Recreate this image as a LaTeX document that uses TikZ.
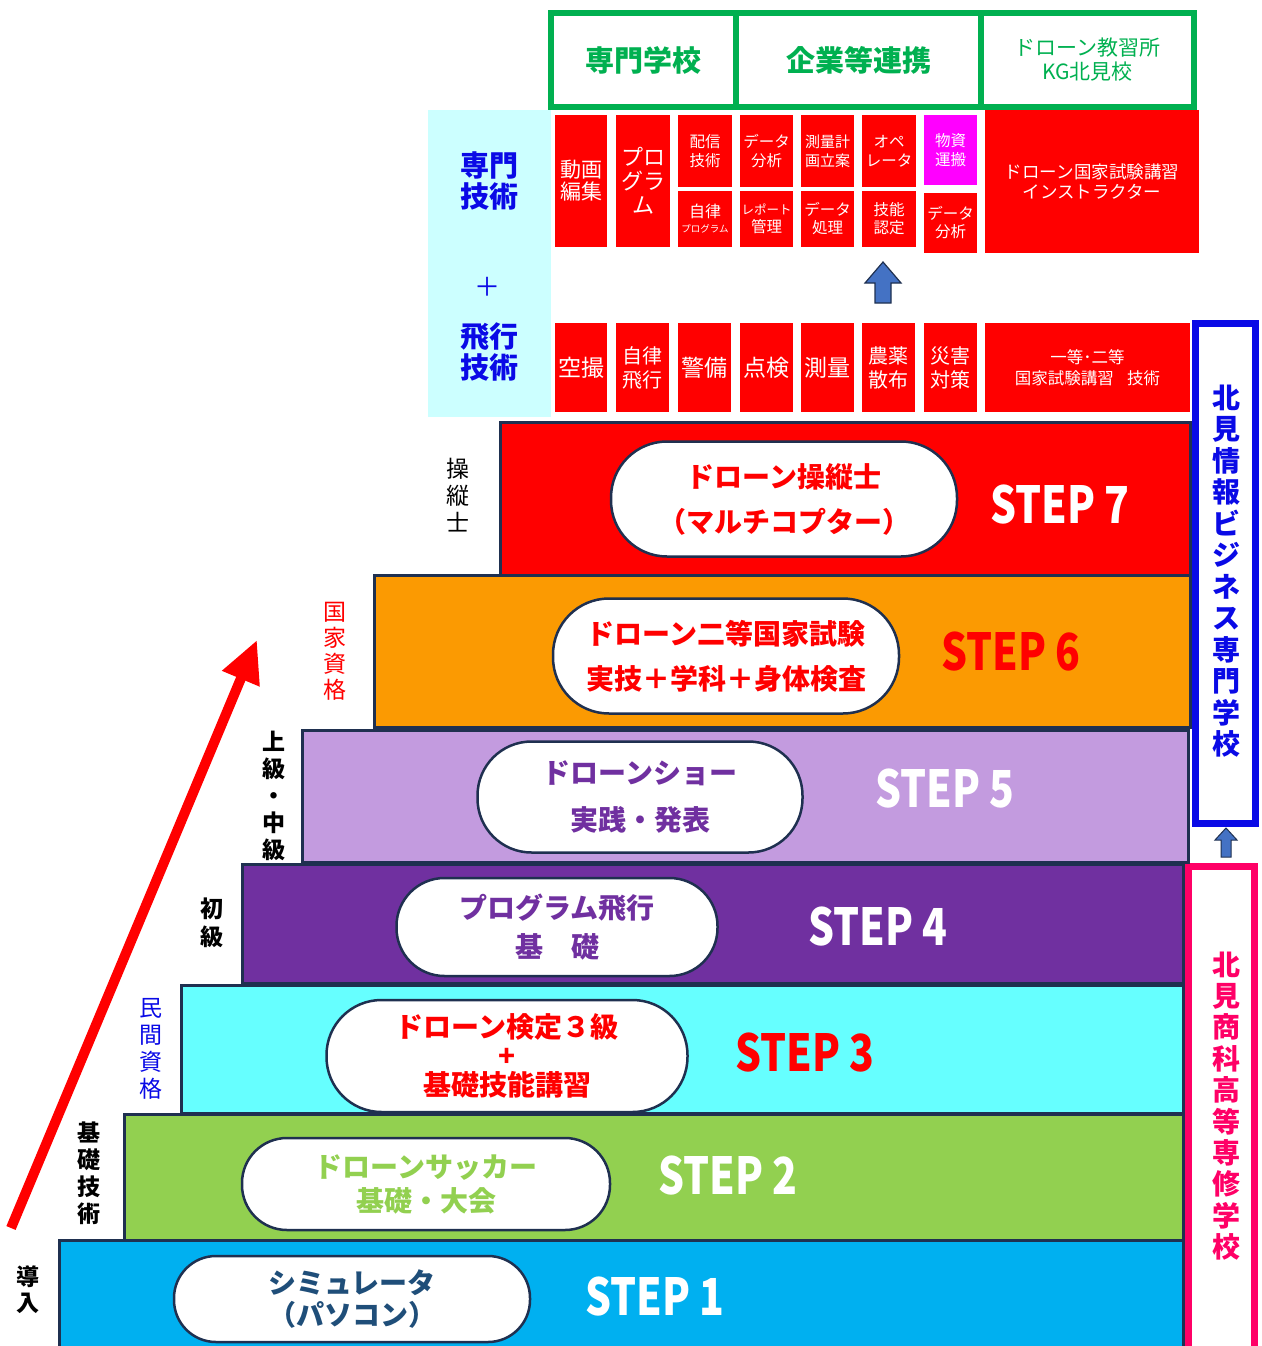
\documentclass[tikz,border=0pt]{standalone}
\usepackage{fontspec}
\setmainfont{Noto Sans CJK JP}
\newfontfamily\stepfont[FakeStretch=0.8]{Noto Sans CJK JP}
\usetikzlibrary{arrows.meta}
\definecolor{navy}{HTML}{1F3050}
\definecolor{cRed}{HTML}{FF0000}
\definecolor{cOrange}{HTML}{FB9A02}
\definecolor{cLav}{HTML}{C39BDF}
\definecolor{cPurple}{HTML}{7030A0}
\definecolor{cCyan}{HTML}{66FFFF}
\definecolor{cGreen}{HTML}{92D050}
\definecolor{cBlue}{HTML}{00B0F0}
\definecolor{cLight}{HTML}{CCFFFF}
\definecolor{cMag}{HTML}{FF00FF}
\definecolor{gGreen}{HTML}{00B050}
\definecolor{cPink}{HTML}{FF0066}
\definecolor{tNavy}{HTML}{1F4E79}
\definecolor{vBlue}{HTML}{0A0AE6}
\definecolor{arBlue}{HTML}{4472C4}
\tikzset{
  base/.style={inner sep=0pt, outer sep=0pt, anchor=north west},
  stepbox/.style={base, draw=navy, line width=3pt},
  pill/.style={draw=navy, line width=2.5pt, fill=white, inner sep=0pt, align=center},
  cell/.style={base, fill=cRed, text=white, align=center},
  hdr/.style={base, draw=gGreen, line width=6pt, text=gGreen, align=center},
  steplbl/.style={inner sep=0pt, font=\stepfont\bfseries\fontsize{51}{56}\selectfont},
  vlbl/.style={align=center, inner sep=0pt},
  pilltext/.style={font=\bfseries\fontsize{28}{#1}\selectfont},
}
\begin{document}
\begin{tikzpicture}[x=1pt,y=-1pt]
\useasboundingbox (0,0) rectangle (1261,1346);

% light cyan panel
\node[base, fill=cLight, minimum width=123, minimum height=307] (panel) at (428,110) {};
\node[vlbl, text=vBlue, font=\bfseries\fontsize{29}{31}\selectfont] (pt1) at (489,181) {専門\\技術};
\node[vlbl, text=vBlue, font=\fontsize{26}{28}\selectfont] (pt2) at (487,287) {＋};
\node[vlbl, text=vBlue, font=\bfseries\fontsize{29}{31}\selectfont] (pt3) at (489,352) {飛行\\技術};

% upper red cells
\node[cell, minimum width=214, minimum height=143, font=\fontsize{17.5}{20}\selectfont] (c13) at (985,110) {ドローン国家試験講習\\インストラクター};
\node[cell, minimum width=52, minimum height=132, font=\fontsize{21}{22}\selectfont] (c1) at (555,115) {動画\\編集};
\node[cell, minimum width=54, minimum height=132, font=\fontsize{22}{24}\selectfont] (c2) at (616,115) {プロ\\グラ\\ム};
\node[cell, minimum width=54, minimum height=72, font=\fontsize{15.5}{19}\selectfont] (c3) at (678,115) {配信\\技術};
\node[cell, minimum width=54, minimum height=56, font=\fontsize{16}{15}\selectfont] (c4) at (678,191) {自律\\{\fontsize{9.5}{11}\selectfont プログラム}};
\node[cell, minimum width=53, minimum height=72, font=\fontsize{15.5}{19}\selectfont] (c5) at (740,115) {データ\\分析};
\node[cell, minimum width=53, minimum height=56, font=\fontsize{15.5}{18}\selectfont] (c6) at (740,191) {{\fontsize{12.5}{14}\selectfont レポート}\\管理};
\node[cell, minimum width=53, minimum height=72, font=\fontsize{15}{19}\selectfont] (c7) at (801,115) {測量計\\画立案};
\node[cell, minimum width=53, minimum height=56, font=\fontsize{15.5}{18}\selectfont] (c8) at (801,191) {データ\\処理};
\node[cell, minimum width=54, minimum height=72, font=\fontsize{15.5}{19}\selectfont] (c9) at (862,115) {オペ\\レータ};
\node[cell, minimum width=54, minimum height=56, font=\fontsize{15.5}{18}\selectfont] (c10) at (862,191) {技能\\認定};
\node[cell, fill=cMag, minimum width=53, minimum height=70, font=\fontsize{15.5}{19}\selectfont] (c11) at (924,115) {物資\\運搬};
\node[cell, minimum width=53, minimum height=60, font=\fontsize{15.5}{18}\selectfont] (c12) at (924,193) {データ\\分析};

% green header
\node[hdr, minimum width=185, minimum height=94, font=\bfseries\fontsize{29}{31}\selectfont] (h1) at (551,13) {専門学校};
\node[hdr, minimum width=245, minimum height=94, font=\bfseries\fontsize{29}{31}\selectfont] (h2) at (736,13) {企業等連携};
\node[hdr, minimum width=213, minimum height=94, font=\fontsize{21}{24}\selectfont] (h3) at (981,13) {ドローン教習所\\KG北見校};

% blue block arrow (upper)
\fill[arBlue, draw=navy, line width=1.2pt] (875,303) -- (875,283) -- (865,283) -- (883,262) -- (901,283) -- (891,283) -- (891,303) -- cycle;

% lower red cells
\node[cell, minimum width=52, minimum height=89, font=\fontsize{23}{24}\selectfont] (d1) at (555,323) {空撮};
\node[cell, minimum width=53, minimum height=89, font=\fontsize{20}{24}\selectfont] (d2) at (616,323) {自律\\飛行};
\node[cell, minimum width=53, minimum height=89, font=\fontsize{23}{24}\selectfont] (d3) at (678,323) {警備};
\node[cell, minimum width=53, minimum height=89, font=\fontsize{23}{24}\selectfont] (d4) at (740,323) {点検};
\node[cell, minimum width=53, minimum height=89, font=\fontsize{23}{24}\selectfont] (d5) at (801,323) {測量};
\node[cell, minimum width=53, minimum height=89, font=\fontsize{20}{24}\selectfont] (d6) at (862,323) {農薬\\散布};
\node[cell, minimum width=53, minimum height=89, font=\fontsize{20}{24}\selectfont] (d7) at (924,323) {災害\\対策};
\node[cell, minimum width=205, minimum height=89, font=\fontsize{16.5}{21}\selectfont] (d8) at (985,323) {一等･二等\\国家試験講習\hspace{0.8em}技術};

% right-side school boxes
\node[base, draw=vBlue, line width=7pt, minimum width=60, minimum height=500] (kb) at (1195,323) {};
\node[vlbl, text=vBlue, font=\bfseries\fontsize{28}{31.5}\selectfont] (kbt) at (1226,571) {北\\見\\情\\報\\ビ\\ジ\\ネ\\ス\\専\\門\\学\\校};
\node[base, draw=cPink, line width=7pt, minimum width=66, minimum height=500] (pb) at (1188,866) {};
\node[vlbl, text=cPink, font=\bfseries\fontsize{28}{31.4}\selectfont] (pbt) at (1226,1106) {北\\見\\商\\科\\高\\等\\専\\修\\学\\校};
\fill[arBlue, draw=navy, line width=1pt] (1221,857) -- (1221,840) -- (1215,840) -- (1226,828) -- (1237,840) -- (1231,840) -- (1231,857) -- cycle;

% steps
\node[stepbox, fill=cBlue, minimum width=1124, minimum height=116] (s1) at (59,1240) {};
\node[stepbox, fill=cGreen, minimum width=1059, minimum height=126] (s2) at (124,1114) {};
\node[stepbox, fill=cCyan, minimum width=1002, minimum height=128] (s3) at (181,985) {};
\node[stepbox, fill=cPurple, minimum width=941, minimum height=119] (s4) at (242,864) {};
\node[stepbox, fill=cLav, minimum width=886, minimum height=132] (s5) at (302,730) {};
\node[stepbox, fill=cOrange, minimum width=816, minimum height=152] (s6) at (374,575) {};
\node[stepbox, fill=cRed, minimum width=690, minimum height=153] (s7) at (500,422) {};

% pills
\node[pill, minimum width=346, minimum height=115, rounded corners=56, text=cRed, pilltext=45] (p7) at (784,499) {ドローン操縦士\\（マルチコプター）};
\node[pill, minimum width=346, minimum height=115, rounded corners=56, text=cRed, pilltext=45] (p6) at (726,656) {ドローン二等国家試験\\実技＋学科＋身体検査};
\node[pill, minimum width=325, minimum height=111, rounded corners=54, text=cPurple, pilltext=47] (p5) at (640,797) {ドローンショー\\実践・発表};
\node[pill, minimum width=321, minimum height=98, rounded corners=48, text=cPurple, pilltext=39] (p4) at (557,927) {プログラム飛行\\基\hspace{1em}礎};
\node[pill, minimum width=361, minimum height=112, rounded corners=55, text=cRed, pilltext=29] (p3) at (507,1056) {ドローン検定３級\\+\\基礎技能講習};
\node[pill, minimum width=368, minimum height=92, rounded corners=45, text=cGreen, pilltext=34] (p2) at (426,1184) {ドローンサッカー\\基礎・大会};
\node[pill, minimum width=356, minimum height=86, rounded corners=42, text=tNavy, pilltext=32] (p1) at (352,1299) {シミュレータ\\（パソコン）};

% STEP labels
\node[steplbl, text=white] (t7) at (1060,505) {STEP 7};
\node[steplbl, text=cRed] (t6) at (1011,652) {STEP 6};
\node[steplbl, text=white] (t5) at (945,789) {STEP 5};
\node[steplbl, text=white] (t4) at (878,927) {STEP 4};
\node[steplbl, text=cRed] (t3) at (805,1053) {STEP 3};
\node[steplbl, text=white] (t2) at (728,1176) {STEP 2};
\node[steplbl, text=white] (t1) at (655,1297) {STEP 1};

% left labels
\node[vlbl, font=\fontsize{23}{27}\selectfont] (l7) at (458,495) {操\\縦\\士};
\node[vlbl, text=cRed, font=\fontsize{23}{26}\selectfont] (l6) at (335,651) {国\\家\\資\\格};
\node[vlbl, font=\bfseries\fontsize{23}{27}\selectfont] (l5) at (274,796) {上\\級\\・\\中\\級};
\node[vlbl, font=\bfseries\fontsize{23}{28}\selectfont] (l4) at (212,923) {初\\級};
\node[vlbl, text=vBlue, font=\fontsize{23}{27}\selectfont] (l3) at (151,1049) {民\\間\\資\\格};
\node[vlbl, font=\bfseries\fontsize{23}{27}\selectfont] (l2) at (89,1173) {基\\礎\\技\\術};
\node[vlbl, font=\bfseries\fontsize{23}{26}\selectfont] (l1) at (28,1290) {導\\入};

% red progress arrow
\coordinate (ra) at (11,1228);
\coordinate (rb) at (257,640);
\draw[cRed, line width=10pt, -{Triangle[length=42pt, width=38pt]}] (ra) -- (rb);
\end{tikzpicture}
\end{document}
